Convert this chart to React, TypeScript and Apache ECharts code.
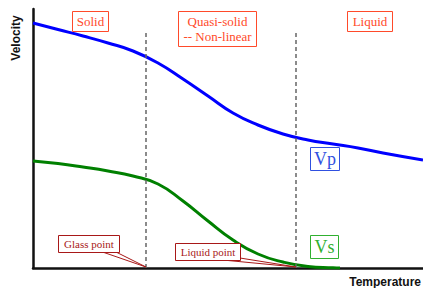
import React, { useEffect, useRef } from "react";
import * as echarts from "echarts";

// Temperature (arbitrary units) and velocity (arbitrary units)
const vpTemp = [0, 25, 50, 75, 100, 125, 150, 175, 200, 225, 250, 275, 300, 325, 350, 390];
const vpVel = [245, 238.5, 232, 225, 217, 205, 189, 172, 155, 143, 134, 128, 124, 120, 115, 108];
const vsTemp = [0, 25, 50, 75, 100, 125, 150, 175, 200, 225, 250, 275, 300, 307];
const vsVel = [107, 104.5, 101, 97, 92, 84, 67, 47, 28, 14, 6, 1.5, 0.2, 0];
const glassPoint = 113;
const liquidPoint = 263;
const dashTop = 238;
const regionLabels = ["Solid", "Quasi-solid\n-- Non-linear", "Liquid"];

export default function App() {
  const ref = useRef<HTMLDivElement>(null);
  useEffect(() => {
    if (!ref.current) return;
    const chart = echarts.init(ref.current, null, { renderer: "svg" });
    const vp = vpTemp.map((t, i) => [t, vpVel[i]]);
    const vs = vsTemp.map((t, i) => [t, vsVel[i]]);
    chart.setOption({
      animation: false,
      grid: { left: 33, right: 0, top: 9, bottom: 20 },
      xAxis: {
        type: "value", min: 0, max: 390,
        axisLine: { show: true, lineStyle: { color: "#111", width: 2.5 } },
        axisTick: { show: false }, axisLabel: { show: false }, splitLine: { show: false },
      },
      yAxis: {
        type: "value", min: 0, max: 259,
        axisLine: { show: true, lineStyle: { color: "#111", width: 2.5 } },
        axisTick: { show: false }, axisLabel: { show: false }, splitLine: { show: false },
      },
      series: [
        {
          type: "line", data: vp, smooth: 0.5, symbol: "none",
          lineStyle: { color: "#0000ff", width: 3 },
          markLine: {
            silent: true, symbol: "none", label: { show: false },
            lineStyle: { type: [4, 3], color: "#666", width: 1.5 },
            data: [
              [{ coord: [glassPoint, 0] }, { coord: [glassPoint, dashTop] }],
              [{ coord: [liquidPoint, 0] }, { coord: [liquidPoint, dashTop] }],
            ],
          },
          z: 3,
        },
        {
          type: "line", data: vs, smooth: 0.5, symbol: "none",
          lineStyle: { color: "#008000", width: 3 }, z: 3,
        },
      ],
    });
    const g = chart.convertToPixel({ gridIndex: 0 }, [glassPoint, 0]) as number[];
    const l = chart.convertToPixel({ gridIndex: 0 }, [liquidPoint, 0]) as number[];
    const box = (x: number, y: number, w: number, h: number, color: string, text: string, size: number, lh?: number) => [
      { type: "rect", shape: { x, y, width: w, height: h }, style: { fill: "#fff", stroke: color, lineWidth: 1 }, z: 10 },
      {
        type: "text", x: x + w / 2, y: y + h / 2, z: 11,
        style: {
          text, fill: color, fontFamily: "serif", fontSize: size,
          align: "center", verticalAlign: "middle", lineHeight: lh,
        },
      },
    ];
    const red = "#ff4a2a";
    const dark = "#a81818";
    chart.setOption({
      graphic: [
        ...box(72.5, 11.5, 36, 20, red, regionLabels[0], 13),
        ...box(178.5, 11.5, 78, 35, red, regionLabels[1], 13, 15),
        ...box(347.5, 11.5, 45, 20, red, regionLabels[2], 13),
        ...box(310.5, 147.5, 29, 23, "#3050e0", "Vp", 18),
        ...box(310.5, 235.5, 28, 23, "#30b030", "Vs", 18),
        {
          type: "polygon", z: 9,
          shape: { points: [[104, 252.5], [117, 252.5], [g[0], g[1] - 1]] },
          style: { fill: "#fff", stroke: dark, lineWidth: 1 },
        },
        ...box(58.5, 235.5, 61, 17, dark, "Glass point", 11),
        {
          type: "polygon", z: 9,
          shape: { points: [[228, 260.5], [240, 258], [l[0], l[1] - 1]] },
          style: { fill: "#fff", stroke: dark, lineWidth: 1 },
        },
        ...box(175.5, 243.5, 65, 17, dark, "Liquid point", 11),
        {
          type: "text", x: 16, y: 38, rotation: Math.PI / 2, z: 11,
          style: {
            text: "Velocity", fill: "#111", fontFamily: "Liberation Sans", fontWeight: "bold", fontSize: 12,
            align: "center", verticalAlign: "middle",
          },
        },
        {
          type: "text", x: 421, y: 282, z: 11,
          style: {
            text: "Temperature", fill: "#111", fontFamily: "Liberation Sans", fontWeight: "bold", fontSize: 12,
            align: "right", verticalAlign: "middle",
          },
        },
      ],
    });
    return () => chart.dispose();
  }, []);
  return <div ref={ref} style={{ position: "absolute", left: 0, top: 0, width: 423, height: 288 }} />;
}
